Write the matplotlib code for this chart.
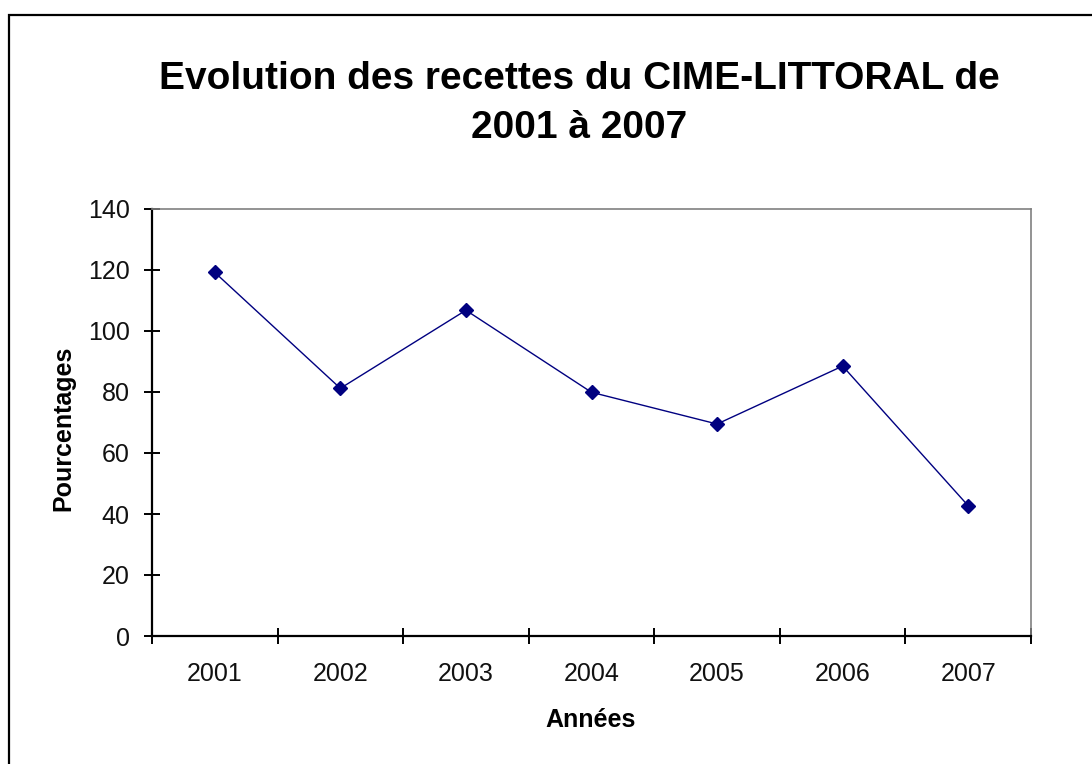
import matplotlib
matplotlib.use("Agg")
import matplotlib.pyplot as plt
from matplotlib.patches import Rectangle
import numpy as np

years = ["2001", "2002", "2003", "2004", "2005", "2006", "2007"]
values = [119.2, 81.2, 106.8, 79.9, 69.5, 88.5, 42.7]
yticks = [0, 20, 40, 60, 80, 100, 120, 140]

plt.rcParams['font.family'] = ['Liberation Sans', 'DejaVu Sans']

W, H = 1092, 764
fig = plt.figure(figsize=(W / 100, H / 100), dpi=100)
fig.patch.set_facecolor('white')

# outer chart border (extends past right/bottom edges)
fig.patches.append(Rectangle((9 / W, -0.1), 1.2, (H - 15) / H + 0.1,
                             transform=fig.transFigure, fill=False,
                             edgecolor='black', linewidth=1.6))

ax = fig.add_axes([152 / W, (H - 636) / H, (1031 - 152) / W, (636 - 209) / H])

x = np.arange(len(years))
ax.plot(x, values, color='#000080', linewidth=1.0, marker='D',
        markersize=7.5, markerfacecolor='#000080', markeredgecolor='#000080')

ax.set_xlim(-0.5, len(years) - 0.5)
ax.set_ylim(0, 140)

ax.set_yticks(yticks)
ax.set_yticklabels([str(v) for v in yticks])
ax.set_xticks(np.arange(-0.5, len(years), 1.0))
ax.set_xticklabels([])
ax.set_xticks(x, minor=True)
ax.set_xticklabels(years, minor=True)

ax.tick_params(axis='both', which='major', direction='inout', length=11,
               width=1.4, color='black', labelsize=18)
ax.tick_params(axis='y', which='major', pad=10.5, labelcolor='#111111')
ax.tick_params(axis='x', which='minor', length=0, pad=19, labelsize=18,
               labelcolor='#111111')

for s in ['left', 'bottom']:
    ax.spines[s].set_color('black')
    ax.spines[s].set_linewidth(1.6)
for s in ['top', 'right']:
    ax.spines[s].set_color('#808080')
    ax.spines[s].set_linewidth(1.2)

fig.text(579 / W, 1 - 103.5 / H,
         "Evolution des recettes du CIME-LITTORAL de\n2001 à 2007",
         ha='center', va='center', fontsize=28, fontweight='bold',
         linespacing=1.46)
fig.text(591 / W, 1 - 720 / H, "Années", ha='center', va='center',
         fontsize=18, fontweight='bold')
fig.text(63 / W, 1 - 428 / H, "Pourcentages", ha='center', va='center',
         fontsize=18, fontweight='bold', rotation=90)

fig.savefig("out.png", dpi=100)
